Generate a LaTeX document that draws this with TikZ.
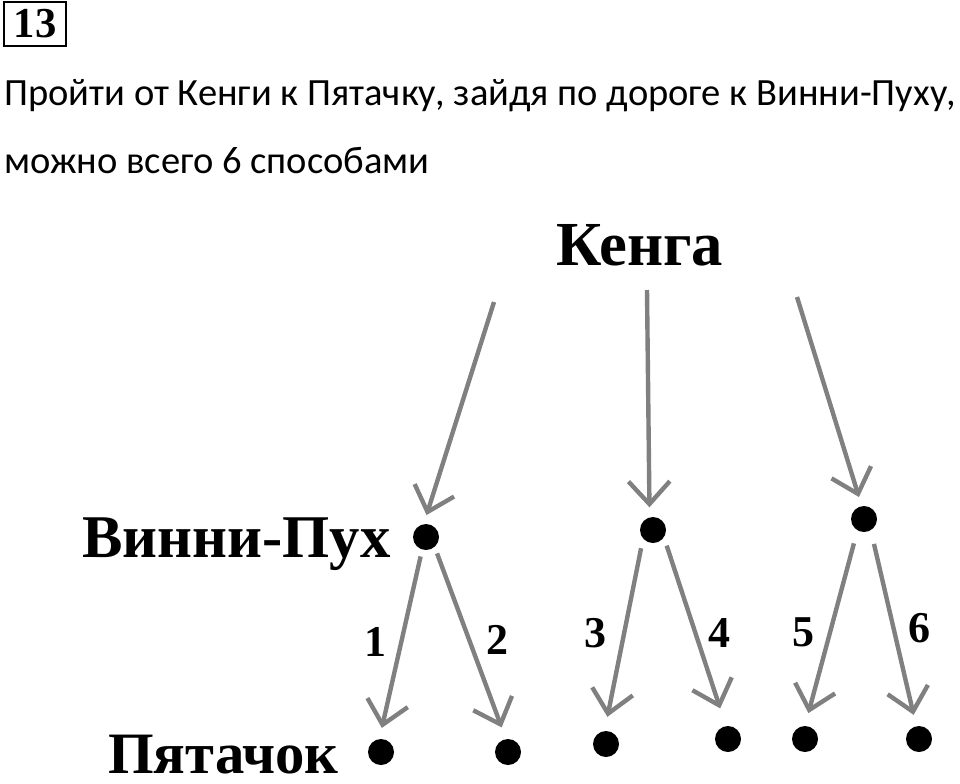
\documentclass[tikz,border=0pt]{standalone}
\usepackage{fontspec}
\setmainfont{Liberation Serif}
\newfontfamily\calfont{Carlito}
\usetikzlibrary{arrows.meta}

\begin{document}
\begin{tikzpicture}[x=0.75pt, y=-0.75pt,
	dot/.style={circle, fill=black, inner sep=0pt, minimum size=19.5pt},
	arr/.style={draw=gray, line width=3.3pt, -{Straight Barb[length=17pt, width=31pt]}},
	way/.style={font=\bfseries\fontsize{33}{33}\selectfont},
	who/.style={anchor=base west, inner sep=0pt, font=\bfseries\fontsize{45.5}{45.5}\selectfont}]
\useasboundingbox (0,0) rectangle (960,783);
% task number and text
\node [draw, line width=1.5pt, minimum width=46.5pt, minimum height=33pt, inner sep=0pt,
	font=\bfseries\fontsize{32}{32}\selectfont] (task) at (35,24) {13};
\node [anchor=base west, inner sep=0pt, font=\calfont\fontsize{28.9}{28.9}\selectfont] (line1) at (4,105)
	{Пройти от Кенги к Пятачку, зайдя по дороге к Винни-Пуху,};
\node [anchor=base west, inner sep=0pt, font=\calfont\fontsize{28.9}{28.9}\selectfont] (line2) at (4,173)
	{можно всего 6 способами};
% names
\node [who, font=\bfseries\fontsize{47}{47}\selectfont] (kenga) at (556,265) {Кенга};
\node [who] (pooh) at (82,557) {Винни-Пух};
\node [who, font=\bfseries\fontsize{44}{44}\selectfont] (piglet) at (108,773) {Пятачок};
% points
\node [dot] (vp1) at (426,537) {};
\node [dot] (vp2) at (653,530) {};
\node [dot] (vp3) at (864,519) {};
\node [dot] (p1) at (381,752) {};
\node [dot] (p2) at (508,752) {};
\node [dot] (p3) at (606,744) {};
\node [dot] (p4) at (728,739) {};
\node [dot] (p5) at (805,739) {};
\node [dot] (p6) at (919,739) {};
% from Kenga
\coordinate (k1) at (494,302);
\coordinate (k2) at (647,290);
\coordinate (k3) at (797,297);
\draw [arr, shorten >=7pt] (k1) -- (vp1.100);
\draw [arr, shorten >=7.4pt] (k2) -- (vp2.105);
\draw [arr, shorten >=7pt] (k3) -- (vp3.100);
% to Piglet
\draw [arr, shorten <=5.2pt, shorten >=8.4pt] (vp1.-107) -- (p1.97);
\draw [arr, shorten <=5.1pt, shorten >=9.2pt] (vp1.-49) -- (p2.99);
\draw [arr, shorten <=7.3pt, shorten >=10.7pt] (vp2.-139) -- (p3.96);
\draw [arr, shorten <=6.5pt, shorten >=13.8pt] (vp2.-34) -- (p4.99);
\draw [arr, shorten <=10pt, shorten >=9.8pt] (vp3.-120) -- (p5.90);
\draw [arr, shorten <=10.4pt, shorten >=8.6pt] (vp3.-59) -- (p6.102);
% ways
\node [way] (w1) at (375,642) {1};
\node [way] (w2) at (497,640) {2};
\node [way] (w3) at (595,633) {3};
\node [way] (w4) at (719,633) {4};
\node [way] (w5) at (803,632) {5};
\node [way] (w6) at (919,628) {6};
\end{tikzpicture}
\end{document}
